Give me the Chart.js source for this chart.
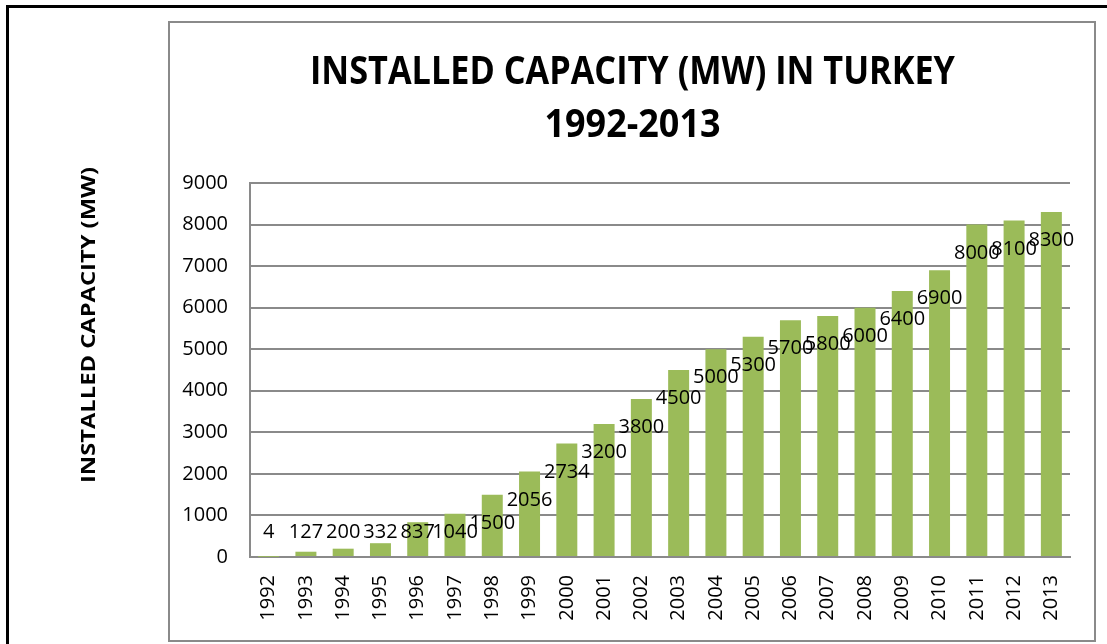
<!DOCTYPE html>
<html>
<head>
<meta charset="utf-8">
<title>Installed Capacity (MW) in Turkey 1992-2013</title>
<script src="https://cdn.jsdelivr.net/npm/chart.js@4.4.1/dist/chart.umd.min.js"></script>
<style>
  html, body { margin: 0; padding: 0; background: #ffffff; }
  #wrap { width: 1107px; height: 644px; position: relative; }
  canvas { display: block; }
</style>
</head>
<body>
<div id="wrap"><canvas id="chart" width="1107" height="644"></canvas></div>
<script>
// Installed wind capacity, one bar per year
const years = ['1992', '1993', '1994', '1995', '1996', '1997', '1998', '1999', '2000', '2001', '2002',
               '2003', '2004', '2005', '2006', '2007', '2008', '2009', '2010', '2011', '2012', '2013'];
const capacityMW = [4, 127, 200, 332, 837, 1040, 1500, 2056, 2734, 3200, 3800,
                    4500, 5000, 5300, 5700, 5800, 6000, 6400, 6900, 8000, 8100, 8300];
const yAxisMin = 0;
const yAxisMax = 9000;
const yAxisStep = 1000;
const titleLines = ['INSTALLED CAPACITY (MW) IN TURKEY', '1992-2013'];
const yAxisTitle = 'INSTALLED CAPACITY (MW)';

const FONT = "'Open Sans', 'DejaVu Sans', sans-serif";
const GRID = '#8a8a8a';
const BAR = '#9bbb59';

// Draws text horizontally squeezed so it spans the given width (narrow, Calibri-like look)
function fitText(ctx, text, x, y, width) {
  const w = ctx.measureText(text).width;
  const s = width / w;
  ctx.save();
  ctx.translate(x, y);
  ctx.scale(s, 1);
  ctx.fillText(text, 0, 0);
  ctx.restore();
}

// Page frame, chart frame, headings
const framePlugin = {
  id: 'frame',
  beforeDraw(chart) {
    const ctx = chart.ctx;
    ctx.save();
    ctx.fillStyle = '#ffffff';
    ctx.fillRect(0, 0, chart.width, chart.height);
    // outer black frame (top and left edges)
    ctx.strokeStyle = '#000000';
    ctx.lineWidth = 3;
    ctx.beginPath();
    ctx.moveTo(1107, 6.5);
    ctx.lineTo(7.5, 6.5);
    ctx.lineTo(7.5, 644);
    ctx.stroke();
    // chart frame
    ctx.strokeStyle = GRID;
    ctx.lineWidth = 2;
    ctx.strokeRect(169, 22, 926, 619);
    ctx.restore();
  },
  afterDraw(chart) {
    const ctx = chart.ctx;
    ctx.save();
    ctx.fillStyle = '#000000';
    ctx.textAlign = 'center';
    ctx.textBaseline = 'alphabetic';
    ctx.font = 'bold 39px ' + FONT;
    fitText(ctx, titleLines[0], 632.5, 84, 645);
    fitText(ctx, titleLines[1], 632.5, 137, 176);
    // vertical axis title
    ctx.font = 'bold 20px ' + FONT;
    ctx.textBaseline = 'middle';
    ctx.translate(89, 325);
    ctx.rotate(-Math.PI / 2);
    fitText(ctx, yAxisTitle, 0, 0, 316);
    ctx.restore();
  }
};

// Value labels placed a little below each bar's top, kept clear of the baseline
const valueLabels = {
  id: 'valueLabels',
  afterDatasetsDraw(chart) {
    const ctx = chart.ctx;
    const meta = chart.getDatasetMeta(0);
    const zeroY = chart.scales.y.getPixelForValue(0);
    ctx.save();
    ctx.font = '20px ' + FONT;
    ctx.fillStyle = '#000000';
    ctx.textAlign = 'center';
    ctx.textBaseline = 'middle';
    meta.data.forEach((bar, i) => {
      const y = Math.min(bar.y + 28.5, zeroY - 25);
      ctx.fillText(String(capacityMW[i]), bar.x, y);
    });
    ctx.restore();
  }
};

new Chart(document.getElementById('chart'), {
  type: 'bar',
  data: {
    labels: years,
    datasets: [{
      data: capacityMW,
      backgroundColor: BAR,
      borderWidth: 0,
      barPercentage: 0.563,
      categoryPercentage: 1.0
    }]
  },
  options: {
    responsive: false,
    animation: false,
    devicePixelRatio: 1,
    layout: { padding: { left: 0, right: 37, top: 183, bottom: 0 } },
    plugins: {
      legend: { display: false },
      title: { display: false },
      tooltip: { enabled: false }
    },
    scales: {
      x: {
        grid: { display: false, drawTicks: false },
        border: { display: true, color: GRID, width: 2 },
        ticks: {
          autoSkip: false,
          minRotation: 90,
          maxRotation: 90,
          padding: 18,
          color: '#000000',
          font: { family: FONT, size: 20 }
        },
        afterFit(scale) { scale.height = 87; }
      },
      y: {
        min: yAxisMin,
        max: yAxisMax,
        grid: { color: GRID, lineWidth: 2, drawTicks: false },
        border: { display: true, color: GRID, width: 2 },
        ticks: {
          stepSize: yAxisStep,
          padding: 22,
          color: '#000000',
          font: { family: FONT, size: 20 },
          callback: (value) => String(value)
        },
        afterFit(scale) { scale.width = 250; }
      }
    }
  },
  plugins: [framePlugin, valueLabels]
});
</script>
</body>
</html>
